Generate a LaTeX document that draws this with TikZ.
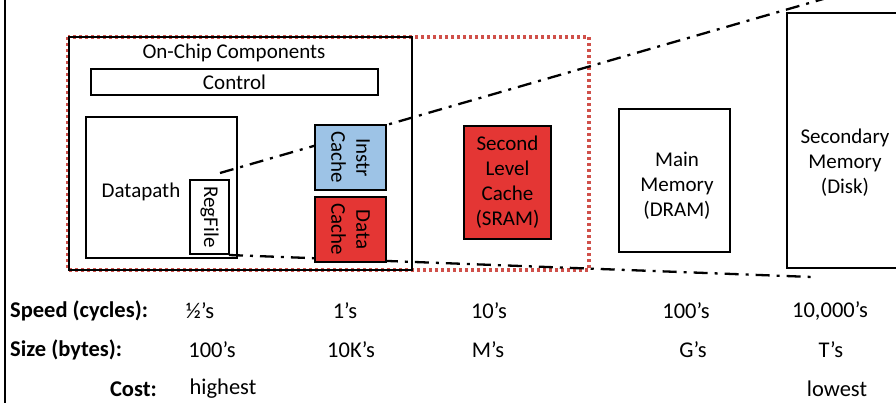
\documentclass[tikz,border=0pt]{standalone}
\usepackage{fontspec}
\setmainfont{Carlito}
\usetikzlibrary{positioning}
\definecolor{cacheblue}{RGB}{157, 195, 230}
\definecolor{cachered}{RGB}{228, 54, 52}
\definecolor{levelred}{RGB}{208, 80, 74}

\begin{document}
\begin{tikzpicture}[x=1pt, y=-1pt,
    box/.style={draw=black, line width=2pt, inner sep=0pt, align=center, font=\fontsize{21}{25}\selectfont},
    plain/.style={inner sep=0pt, align=center, font=\fontsize{21}{25}\selectfont},
    rowval/.style={inner sep=0pt, font=\fontsize{22.5}{26}\selectfont},
    hop/.style={black, line width=2.3pt, dash pattern=on 14pt off 7pt on 3pt off 7pt},
    rowhead/.style={inner sep=0pt, font=\fontsize{22.5}{26}\selectfont\bfseries}]
  \useasboundingbox (0,0) rectangle (896,403);
  % slide edge
  \draw[line width=2pt] (5,0) -- (5,403);
  % first level region (dotted)
  \draw[levelred, line width=3.2pt, dash pattern=on 3pt off 3pt] (68,37) rectangle (589,270);
  % zoom lines from the register file out to the disk
  \coordinate (upA) at (220,173);
  \coordinate (upB) at (896,-22);
  \coordinate (loA) at (229,255);
  \coordinate (loB) at (812,277);
  \draw[hop] (upA) -- (upB);
  \draw[hop] (loA) -- (loB);
  % on-chip part
  \node[box, minimum width=343pt, minimum height=233pt] (chip) at (240.5,153.5) {};
  \node[plain] (chiptitle) at (234,53) {On-Chip Components};
  \node[box, minimum width=287pt, minimum height=26pt] (control) at (234.5,82) {Control};
  \node[box, minimum width=151pt, minimum height=141pt] (datapath) at (161.5,187.5) {};
  \node[plain] (dptext) at (141,192) {Datapath};
  \node[box, fill=white, rotate=-90, minimum width=74pt, minimum height=39pt] (regfile) at (209.5,217) {RegFile};
  \node[box, fill=cacheblue, rotate=-90, minimum width=65pt, minimum height=71pt] (icache) at (350.5,157.5) {Instr\\Cache};
  \node[box, fill=cachered, rotate=-90, minimum width=65pt, minimum height=71pt] (dcache) at (350.5,229.5) {Data\\Cache};
  % off-chip levels
  \node[box, fill=cachered, minimum width=87pt, minimum height=113pt] (ltwo) at (507.5,182.5) {Second\\Level\\Cache\\(SRAM)};
  \node[box, minimum width=111pt, minimum height=143pt] (mainmem) at (674.5,180.5) {};
  \node[plain] (mmtext) at (677,186) {Main\\Memory\\(DRAM)};
  \node[box, line width=2.2pt, minimum width=118pt, minimum height=255pt] (secmem) at (846,140.5) {};
  \node[plain] (smtext) at (845,163) {Secondary\\Memory\\(Disk)};
  % table below
  \node[rowhead, anchor=west] (speed) at (10,311) {Speed (cycles):};
  \node[rowhead, anchor=west] (size) at (10,350) {Size (bytes):};
  \node[rowhead, anchor=east] (cost) at (157,389) {Cost:};
  \node[rowval] (sp1) at (200,311) {½’s};
  \node[rowval] (sp2) at (345,311) {1’s};
  \node[rowval] (sp3) at (489,311) {10’s};
  \node[rowval] (sp4) at (686,311) {100’s};
  \node[rowval] (sp5) at (830,311) {10,000’s};
  \node[rowval] (sz1) at (212,350) {100’s};
  \node[rowval] (sz2) at (351,350) {10K’s};
  \node[rowval] (sz3) at (488,350) {M’s};
  \node[rowval] (sz4) at (693,350) {G’s};
  \node[rowval] (sz5) at (831,350) {T’s};
  \node[rowval] (c1) at (223,389) {highest};
  \node[rowval] (c2) at (837,389) {lowest};
\end{tikzpicture}
\end{document}
